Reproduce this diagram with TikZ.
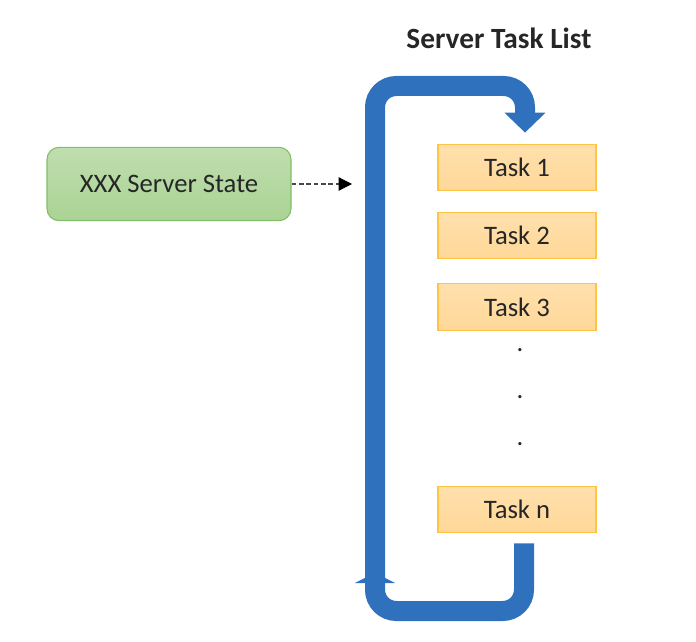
\documentclass[tikz,border=0pt]{standalone}
\usepackage{fontspec}
\setmainfont{Carlito}
\usetikzlibrary{arrows.meta,positioning}
\definecolor{ink}{HTML}{262626}
\definecolor{loopblue}{HTML}{2F71BD}
\definecolor{greenfill}{HTML}{AAD394}
\definecolor{greenline}{HTML}{80BF66}
\definecolor{taskfill}{HTML}{FFD898}
\definecolor{taskline}{HTML}{FFC445}
\tikzset{
  every node/.style={font=\fontsize{20}{24}\selectfont, text=ink},
  statebox/.style={draw=greenline, rounded corners=9pt, line width=0.8pt, top color=greenfill!75!white, bottom color=greenfill, minimum width=183pt, minimum height=55pt, text depth=0pt},
  taskbox/.style={draw=taskline, line width=0.8pt, top color=taskfill!80!white, bottom color=taskfill, minimum width=118.5pt, minimum height=35pt, text depth=0pt},
  title/.style={font=\fontsize{22}{26}\selectfont\bfseries},
  dots/.style={font=\fontsize{20}{24}\selectfont},
  looparrow/.style={draw=loopblue, line width=15pt, rounded corners=16pt, -{Triangle[length=15pt,width=30pt]}},
  backarrow/.style={draw=loopblue, line width=15pt, rounded corners=16pt, -{Triangle[length=7.5pt,width=30pt]}},
  dashedarrow/.style={draw=ink!85, line width=0.9pt, dashed, dash pattern=on 3.5pt off 2pt, -{Triangle[length=10pt,width=10pt,color=black]}},
}
\begin{document}
\begin{tikzpicture}[x=0.75pt, y=-0.75pt]
\useasboundingbox (0,0) rectangle (696,642);
\node[title] (title) at (499,38) {Server Task List};
\node[statebox] (state) at (169,184) {XXX Server State};
\node[taskbox] (task1) at (517,167.5) {Task 1};
\node[taskbox] (task2) at (517,235.5) {Task 2};
\node[taskbox] (task3) at (517,307) {Task 3};
\node[dots] (dot1) at (520,350) {.};
\node[dots] (dot2) at (520,397) {.};
\node[dots] (dot3) at (520,444) {.};
\node[taskbox] (taskn) at (517,509.5) {Task n};
% the loop round the list
\coordinate (topleft) at (375,86);
\coordinate (botleft) at (375,611);
\coordinate (inlet) at (352,184);
\draw[looparrow] (375,578) -- (topleft) -| ([yshift=8.25pt]task1.north -| 525,0);
\draw[backarrow] ([yshift=-7.5pt]taskn.south -| 524,0) |- (botleft) -- (375,573);
\draw[dashedarrow] (state.east) -- (inlet);
\end{tikzpicture}
\end{document}
